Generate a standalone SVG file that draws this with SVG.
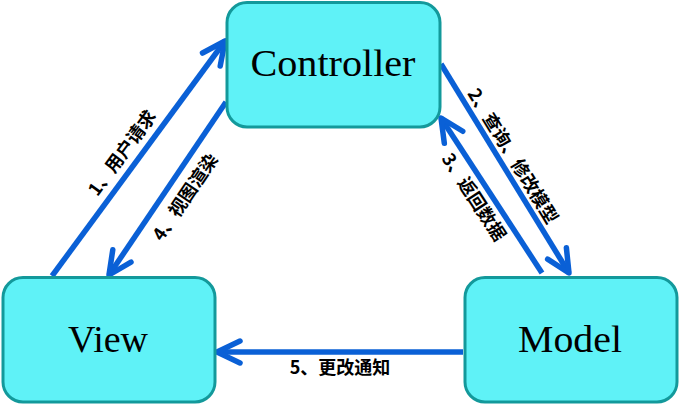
<svg xmlns="http://www.w3.org/2000/svg" width="679" height="404" viewBox="0 0 679 404">
  <style>
    .box { fill: #5FF2F7; stroke: #13999B; stroke-width: 3; }
    .name { font-family: "Liberation Serif", "Times New Roman", serif; font-size: 38px; fill: #000; text-anchor: middle; }
    .edge { fill: none; stroke: #0A60D6; stroke-width: 5.5; stroke-linecap: butt; marker-end: url(#arrow); }
    .lbl { font-family: "Noto Sans CJK SC", "Noto Sans", sans-serif; font-weight: bold; font-size: 18px; fill: #000; text-anchor: middle; }
  </style>
  <defs>
    <marker id="arrow" markerUnits="userSpaceOnUse" markerWidth="40" markerHeight="40" viewBox="-30 -20 40 40" refX="0" refY="0" orient="auto" overflow="visible">
      <path d="M-23,-11 L0,0 L-23,11" fill="none" stroke="#0A60D6" stroke-width="5.5" stroke-linecap="round" stroke-linejoin="round"/>
    </marker>
  </defs>
  <rect width="679" height="404" fill="#FFFFFF"/>

  <g id="connectors">
    <path class="edge" d="M52,276 L225,41"/>
    <path class="edge" d="M441,64 L569,273"/>
    <path class="edge" d="M542,273 L441,118"/>
    <path class="edge" d="M226,102 L109,275"/>
    <path class="edge" d="M463,352 L217,352"/>
    <g id="edge-labels">
      <text class="lbl" transform="translate(122,153) rotate(-53.6)" x="0" y="6.5">1、用户请求</text>
      <text class="lbl" transform="translate(513,156) rotate(58.5)" x="0" y="6.5">2、查询、修改模型</text>
      <text class="lbl" transform="translate(474,197) rotate(56.9)" x="0" y="6.5">3、返回数据</text>
      <text class="lbl" transform="translate(185,197) rotate(-55.9)" x="0" y="6.5">4、视图渲染</text>
      <text class="lbl" x="340" y="374">5、更改通知</text>
    </g>
  </g>

  <g id="controller">
    <rect class="box" x="227" y="2.5" width="213" height="124.5" rx="20" ry="20"/>
    <text class="name" x="333" y="76" textLength="165" lengthAdjust="spacingAndGlyphs">Controller</text>
  </g>
  <g id="view">
    <rect class="box" x="3" y="277.5" width="212" height="124.5" rx="20" ry="20"/>
    <text class="name" x="108" y="352">View</text>
  </g>
  <g id="model">
    <rect class="box" x="465" y="277.5" width="212" height="124.5" rx="20" ry="20"/>
    <text class="name" x="570" y="352" textLength="104" lengthAdjust="spacingAndGlyphs">Model</text>
  </g>
</svg>
